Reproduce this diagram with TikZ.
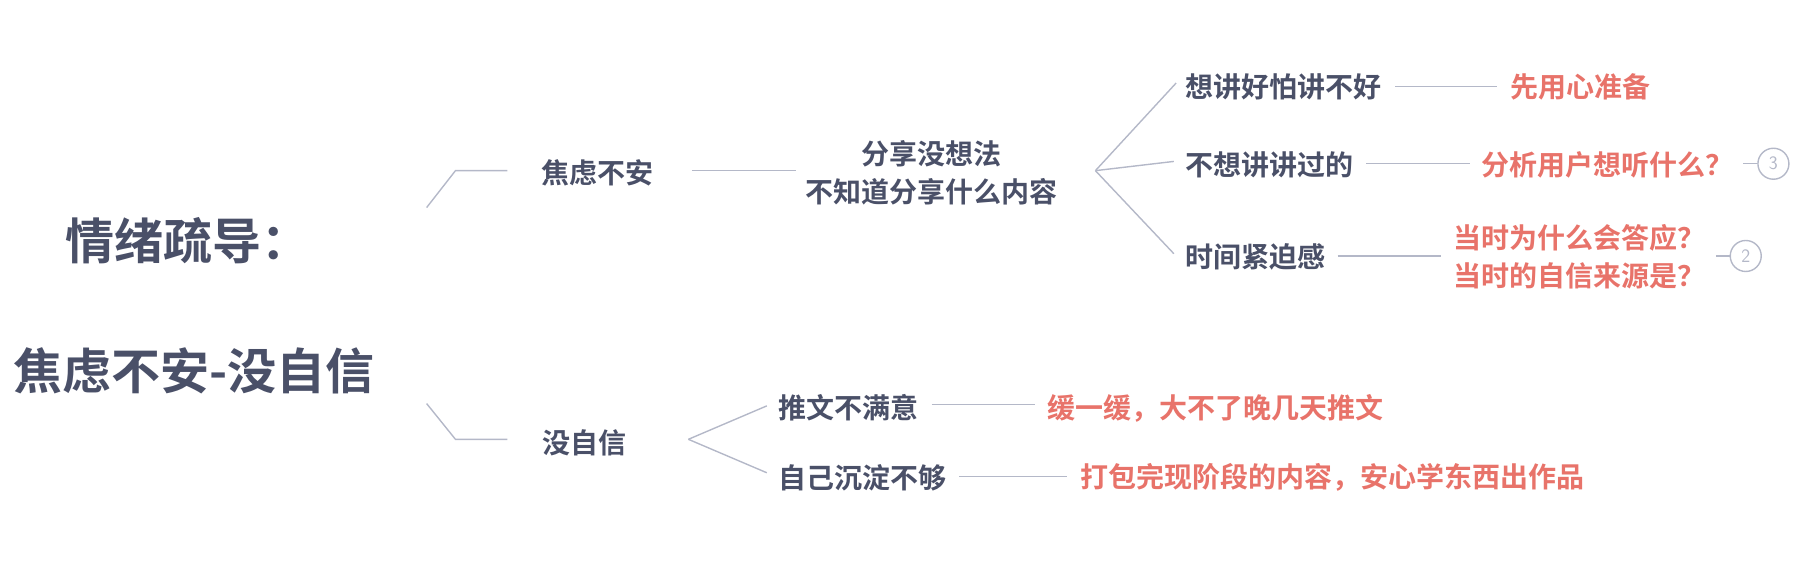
\documentclass[tikz,border=0pt]{standalone}
\usepackage{fontspec}
\newfontfamily\cjk{Noto Sans CJK SC}[BoldFont={Noto Sans CJK SC Bold}]
\definecolor{dk}{HTML}{4A5068}
\definecolor{og}{HTML}{E8736A}
\definecolor{ln}{HTML}{B4B8C8}
\begin{document}
\begin{tikzpicture}[x=1.1531pt,y=-1.1531pt,
 lbl/.style={font=\cjk\bfseries\fontsize{28}{36}\selectfont,text=dk,inner sep=0pt,anchor=west},
 hl/.style={font=\cjk\bfseries\fontsize{28}{36}\selectfont,text=og,inner sep=0pt,anchor=west,align=center},
 ttl/.style={font=\cjk\bfseries\fontsize{49}{56}\selectfont,text=dk,inner sep=0pt},
 cn/.style={draw=ln,circle,minimum size=31pt,inner sep=0pt,text=ln,line width=1.4pt,font=\sffamily\fontsize{19}{19}\selectfont},
 ed/.style={draw=ln,line width=1.4pt}]
\useasboundingbox (0,0) rectangle (1568,491);
\node[ttl] (t1) at (163,209) {情绪疏导：};
\node[ttl] (t2) at (168,322) {焦虑不安-没自信};
\coordinate (r1) at (370,180); \coordinate (r2) at (370,350);
\node[lbl,anchor=center] (a) at (518,150) {焦虑不安};
\node[font=\cjk\bfseries\fontsize{28}{38}\selectfont,text=dk,align=center,inner sep=0pt] (b) at (808,150) {分享没想法\\不知道分享什么内容};
\node[lbl] (c1) at (1028,75) {想讲好怕讲不好};
\node[lbl] (c2) at (1028,143) {不想讲讲过的};
\node[lbl] (c3) at (1028,223) {时间紧迫感};
\node[hl] (d1) at (1310,75) {先用心准备};
\node[hl] (d2) at (1285,143) {分析用户想听什么？};
\node[font=\cjk\bfseries\fontsize{28}{38}\selectfont,text=og,align=center,inner sep=0pt,anchor=west] (d3) at (1260,223) {当时为什么会答应？\\当时的自信来源是？};
\node[cn] (n3) at (1538,142) {3};
\node[cn] (n2) at (1514,222) {2};
\node[lbl,anchor=center] (e) at (507,384) {没自信};
\node[lbl] (f1) at (675,354) {推文不满意};
\node[lbl] (f2) at (675,414) {自己沉淀不够};
\node[hl] (g1) at (908,354) {缓一缓，大不了晚几天推文};
\node[hl] (g2) at (937,414) {打包完现阶段的内容，安心学东西出作品};
\draw[ed] (r1) -- (395,148) -- (440,148);
\draw[ed] (600,148) -- (690,148);
\draw[ed] (950,148) -- (1020,72);
\draw[ed] (950,148) -- (1018,140);
\draw[ed] (950,148) -- (1018,220);
\draw[ed] (1210,75) -- (1298,75);
\draw[ed] (1185,142) -- (1275,142);
\draw[ed] (1160,222) -- (1250,222);
\draw[ed] (1512,142) -- (n3);
\draw[ed] (1488,222) -- (n2);
\draw[ed] (r2) -- (395,381) -- (440,381);
\draw[ed] (597,381) -- (665,352);
\draw[ed] (597,381) -- (665,410);
\draw[ed] (808,351) -- (898,351);
\draw[ed] (832,413) -- (925,413);
\end{tikzpicture}
\end{document}
